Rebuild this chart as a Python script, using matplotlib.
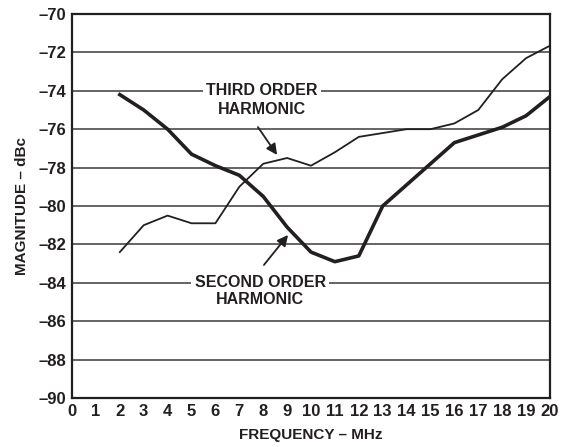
import numpy as np
import matplotlib
matplotlib.use("Agg")
import matplotlib.pyplot as plt

# harmonic distortion vs frequency
freq_mhz = [2, 3, 4, 5, 6, 7, 8, 9, 10, 11, 12, 13, 14, 15, 16, 17, 18, 19, 20]
second_order = [-74.2, -75.0, -76.0, -77.3, -77.9, -78.4, -79.5, -81.1, -82.4, -82.9,
                -82.6, -80.0, -78.9, -77.8, -76.7, -76.3, -75.9, -75.3, -74.3]
third_order = [-82.4, -81.0, -80.5, -80.9, -80.9, -79.0, -77.8, -77.5, -77.9, -77.2,
               -76.4, -76.2, -76.0, -76.0, -75.7, -75.0, -73.4, -72.3, -71.65]

x_ticks = list(range(0, 21))
y_ticks = list(range(-90, -69, 2))

ink = '#231f20'
plt.rcParams['font.family'] = ['Liberation Sans', 'DejaVu Sans']
plt.rcParams['font.weight'] = 'bold'

fig = plt.figure(figsize=(5.72, 4.47), dpi=100)
ax = fig.add_axes([0.1259, 0.1096, 0.8356, 0.8591])

for y in y_ticks[1:-1]:
    ax.axhline(y, color='#3a3a3a', lw=1.1, zorder=1)

ax.plot(freq_mhz, third_order, color=ink, lw=1.3, zorder=3)
ax.plot(freq_mhz, second_order, color=ink, lw=2.6, zorder=3)

ax.set_xlim(0, 20)
ax.set_ylim(-90, -70)
ax.set_xticks(x_ticks)
ax.set_yticks(y_ticks)
ax.set_yticklabels(['\u2013%d' % abs(v) for v in y_ticks])
ax.tick_params(length=0, labelsize=12, colors=ink, pad=4)
for s in ax.spines.values():
    s.set_color(ink)
    s.set_linewidth(1.6)

ax.set_xlabel('FREQUENCY \u2013 MHz', fontsize=11, color=ink, fontweight='bold', labelpad=7)
ax.set_ylabel('MAGNITUDE \u2013 dBc', fontsize=11, color=ink, fontweight='bold', labelpad=7)

box = dict(facecolor='white', edgecolor='none', pad=2.5)
ax.text(7.95, -74.0, 'THIRD ORDER', ha='center', va='center', fontsize=11.5,
        color=ink, fontweight='bold', bbox=box, zorder=4)
ax.text(7.95, -74.95, 'HARMONIC', ha='center', va='center', fontsize=11.5,
        color=ink, fontweight='bold', zorder=4)
ax.text(7.87, -84.0, 'SECOND ORDER', ha='center', va='center', fontsize=11.5,
        color=ink, fontweight='bold', bbox=box, zorder=4)
ax.text(7.87, -84.85, 'HARMONIC', ha='center', va='center', fontsize=11.5,
        color=ink, fontweight='bold', zorder=4)

arrow = dict(arrowstyle='-|>', color=ink, lw=1.3, mutation_scale=16, shrinkA=0, shrinkB=0)
ax.annotate('', xy=(8.58, -77.34), xytext=(7.78, -75.89), arrowprops=arrow, zorder=4)
ax.annotate('', xy=(9.04, -81.51), xytext=(8.03, -83.07), arrowprops=arrow, zorder=4)

fig.savefig('out.png', dpi=100)
